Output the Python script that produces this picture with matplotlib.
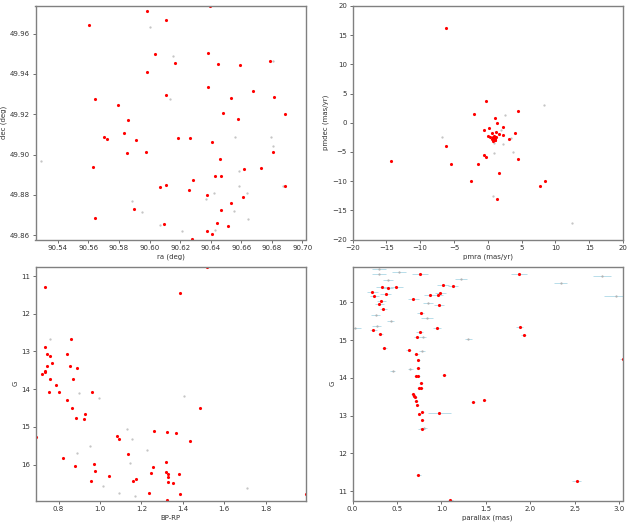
import numpy as np
import matplotlib
matplotlib.use('Agg')
from matplotlib import pyplot as plt

# members (red) and field stars (gray)
ra_m = [90.5607, 90.5985, 90.6110, 90.6393, 90.6037, 90.6385, 90.6164, 90.6448, 90.6592, 90.6791,
        90.5985, 90.6383, 90.6677, 90.6531, 90.6813, 90.5645, 90.6105, 90.5791, 90.5861, 90.6480,
        90.6581, 90.6887, 90.5250, 90.5701, 90.5725, 90.5832, 90.5913, 90.6184, 90.6265, 90.6411,
        90.5850, 90.5979, 90.6806, 90.5627, 90.6459, 90.6730, 90.6616, 90.6430, 90.6465, 90.6286,
        90.6105, 90.6066, 90.6259, 90.6889, 90.6375, 90.6610, 90.6531, 90.5900, 90.6467, 90.5645,
        90.6094, 90.6441, 90.6511, 90.6375, 90.6411, 90.6279]
dec_m = [49.9643, 49.9713, 49.9670, 49.9736, 49.9497, 49.9504, 49.9453, 49.9449, 49.9444, 49.9466,
         49.9410, 49.9333, 49.9317, 49.9282, 49.9284, 49.9274, 49.9295, 49.9246, 49.9171, 49.9206,
         49.9178, 49.9201, 49.9181, 49.9088, 49.9075, 49.9108, 49.9072, 49.9083, 49.9083, 49.9062,
         49.9007, 49.9014, 49.9011, 49.8939, 49.8976, 49.8936, 49.8928, 49.8893, 49.8895, 49.8872,
         49.8847, 49.8840, 49.8824, 49.8843, 49.8800, 49.8792, 49.8761, 49.8732, 49.8727, 49.8688,
         49.8658, 49.8661, 49.8645, 49.8622, 49.8608, 49.8580]
ra_f = [90.6000, 90.6155, 90.6134, 90.6808, 90.6557, 90.6793, 90.6806, 90.6586, 90.6583, 90.6638,
        90.6420, 90.6367, 90.5883, 90.5952, 90.5289, 90.6068, 90.6212, 90.6555, 90.6644, 90.6430,
        90.6871]
dec_f = [49.9633, 49.9489, 49.9274, 49.9463, 49.9085, 49.9088, 49.9044, 49.8921, 49.8843, 49.8810,
         49.8810, 49.8780, 49.8771, 49.8714, 49.8969, 49.8651, 49.8621, 49.8718, 49.8683, 49.8628,
         49.8843]

pmra_m = [-6.2, -0.2, -2.0, 4.5, 1.0, 1.3, -0.5, 0.2, 2.3, 4.0, 1.2, 0.6, 1.6, 2.3, 0.1, 0.3, 3.1,
          0.8, 1.0, 0.9, 1.1, 0.7, 1.2, 0.9, 1.0, 0.8, 1.1, 0.9, -6.1, -0.6, -0.3, 4.5, -14.3,
          -5.4, -1.5, 1.7, -2.5, 8.5, 7.8, 1.3]
pmdec_m = [16.2, 3.8, 1.5, 2.0, 0.8, -0.1, -1.2, -0.9, -0.7, -1.7, -1.5, -1.8, -1.9, -2.1, -2.3,
           -2.5, -2.8, -2.5, -2.6, -2.8, -2.9, -2.7, -2.4, -2.3, -3.0, -3.1, -2.6, -2.5, -4.0, -5.5,
           -5.8, -6.2, -6.6, -7.1, -7.0, -8.6, -9.9, -10.0, -10.9, -13.0]
pmra_f = [-6.7, 2.5, 8.3, 3.5, 2.2, 3.7, 0.9, 0.8, 12.5, 2.0, 0.9]
pmdec_f = [-2.5, 1.3, 3.0, -2.6, -3.6, -5.0, -5.1, -12.6, -17.1, -1.2, -3.4]

bprp_m = [0.734, 1.384, 0.861, 0.736, 0.745, 0.840, 0.760, 0.770, 0.855, 0.745, 0.887, 0.737,
          0.734, 0.721, 0.761, 0.869, 0.790, 0.753, 0.803, 0.961, 0.843, 0.864, 1.484, 0.928,
          0.882, 0.925, 1.262, 1.323, 1.367, 1.081, 1.093, 1.436, 1.134, 0.824, 0.880, 0.972,
          1.317, 1.254, 0.978, 1.317, 1.246, 1.328, 1.380, 1.330, 1.044, 1.176, 0.956, 1.158,
          1.326, 1.354, 1.238, 1.387, 1.323, 1.517, 1.994, 0.690]
g_cmd_m = [11.28, 11.44, 12.67, 12.88, 13.07, 13.07, 13.11, 13.30, 13.39, 13.39, 13.45, 13.53,
           13.55, 13.60, 13.74, 13.74, 13.89, 14.07, 14.07, 14.07, 14.29, 14.50, 14.50, 14.66,
           14.75, 14.80, 15.10, 15.14, 15.15, 15.24, 15.32, 15.36, 15.73, 15.82, 16.04, 15.97,
           15.94, 16.07, 16.17, 16.19, 16.21, 16.25, 16.25, 16.32, 16.29, 16.38, 16.42, 16.44,
           16.45, 16.48, 16.74, 16.77, 16.94, 10.76, 16.78, 15.26]
bprp_f = [0.761, 0.901, 0.996, 1.405, 1.131, 0.953, 1.155, 1.229, 1.147, 0.887, 1.017, 1.094,
          1.169, 1.710]
g_cmd_f = [12.68, 14.10, 14.24, 14.18, 15.05, 15.51, 15.31, 15.60, 15.96, 15.68, 16.57, 16.74,
           16.84, 16.63]

plx_m = [0.756, 1.871, 1.017, 1.130, 0.337, 0.400, 0.494, 0.224, 0.374, 0.243, 0.868, 0.961,
         0.988, 0.685, 0.325, 0.299, 0.973, 0.344, 0.767, 1.878, 0.950, 0.232, 0.756, 0.314,
         1.923, 0.722, 0.359, 0.632, 0.718, 0.741, 0.737, 1.029, 0.733, 0.715, 0.767, 0.767,
         0.748, 0.681, 0.692, 0.703, 0.711, 0.730, 1.481, 1.354, 0.786, 0.973, 0.752, 0.786,
         0.778, 0.741, 2.521, 3.04, 1.10]
plx_err_m = [0.09, 0.085, 0.065, 0.06, 0.07, 0.06, 0.07, 0.06, 0.06, 0.05, 0.06, 0.06,
             0.06, 0.06, 0.05, 0.05, 0.06, 0.04, 0.04, 0.04, 0.05, 0.04, 0.04, 0.03,
             0.03, 0.03, 0.03, 0.03, 0.03, 0.02, 0.02, 0.02, 0.02, 0.02, 0.02, 0.02,
             0.02, 0.02, 0.02, 0.02, 0.02, 0.02, 0.02, 0.02, 0.02, 0.13, 0.02, 0.02,
             0.04, 0.03, 0.05, 0.03, 0.03]
g_plx_m = [16.75, 16.76, 16.46, 16.43, 16.42, 16.39, 16.42, 16.28, 16.23, 16.16, 16.21, 16.21,
           16.24, 16.08, 16.04, 15.96, 15.93, 15.82, 15.72, 15.36, 15.32, 15.26, 15.23, 15.16,
           15.14, 15.09, 14.79, 14.75, 14.64, 14.48, 14.27, 14.07, 14.05, 14.04, 13.87, 13.73,
           13.72, 13.57, 13.52, 13.50, 13.38, 13.28, 13.42, 13.36, 13.10, 13.07, 13.04, 12.88,
           12.65, 11.42, 11.27, 14.50, 10.75]
plx_f = [0.30, 0.52, 0.30, 1.22, 0.40, 2.34, 2.80, 2.96, 0.85, 0.84, 0.27, 0.43, 0.26, 0.03,
         0.79, 1.30, 0.78, 0.65, 0.45, 0.80]
plx_err_f = [0.08, 0.08, 0.08, 0.07, 0.06, 0.07, 0.10, 0.13, 0.06, 0.07, 0.05, 0.04, 0.05, 0.06,
             0.04, 0.04, 0.03, 0.03, 0.03, 0.04]
g_plx_f = [16.88, 16.82, 16.75, 16.62, 16.59, 16.52, 16.71, 16.17, 15.99, 15.59, 15.38, 15.50,
           15.68, 15.31, 15.09, 15.04, 14.72, 14.23, 14.17, 12.68]

plt.rcParams.update({
    'font.size': 5,
    'axes.linewidth': 1.0,
    'axes.edgecolor': '#808080',
    'xtick.major.size': 2,
    'ytick.major.size': 2,
    'xtick.major.width': 0.5,
    'ytick.major.width': 0.5,
    'xtick.major.pad': 2,
    'ytick.major.pad': 2,
    'axes.labelpad': 2,
    'xtick.color': '#333333',
    'ytick.color': '#333333',
    'axes.labelcolor': '#333333',
})

fig = plt.figure(figsize=(6.28, 5.26), dpi=100)
W, H = 628, 526


def add_ax(x0, y0, x1, y1):
    return fig.add_axes([x0 / W, 1 - y1 / H, (x1 - x0) / W, (y1 - y0) / H])


ax1 = add_ax(35.5, 6, 306, 239.5)
ax2 = add_ax(352.5, 6, 623, 239.5)
ax3 = add_ax(35.5, 267, 306, 500.5)
ax4 = add_ax(352.5, 267, 623, 500.5)

field_kw = dict(ls='none', marker='.', ms=1.2, color='#c0c0c0')
mem_kw = dict(ls='none', marker='.', ms=2.5, color='red')

# sky positions
ax1.plot(ra_f, dec_f, **field_kw)
ax1.plot(ra_m, dec_m, **mem_kw)
ax1.set_xlim(90.5254, 90.7024)
ax1.set_ylim(49.8579, 49.9737)
ax1.set_xticks(np.arange(90.54, 90.701, 0.02))
ax1.set_yticks(np.arange(49.86, 49.961, 0.02))
ax1.set_xlabel('ra (deg)')
ax1.set_ylabel('dec (deg)')

# proper motions
ax2.plot(pmra_f, pmdec_f, **field_kw)
ax2.plot(pmra_m, pmdec_m, **mem_kw)
ax2.set_xlim(-20, 20)
ax2.set_ylim(-20, 20)
ax2.set_xticks(np.arange(-20, 21, 5))
ax2.set_yticks(np.arange(-20, 21, 5))
ax2.set_xlabel('pmra (mas/yr)')
ax2.set_ylabel('pmdec (mas/yr)')

# CMD
ax3.plot(bprp_f, g_cmd_f, **field_kw)
ax3.plot(bprp_m, g_cmd_m, **mem_kw)
ax3.set_xlim(0.689, 1.994)
ax3.set_ylim(16.95, 10.76)
ax3.set_xticks([0.8, 1.0, 1.2, 1.4, 1.6, 1.8])
ax3.set_yticks([11, 12, 13, 14, 15, 16])
ax3.set_xlabel('BP-RP')
ax3.set_ylabel('G')

# parallax vs G
ax4.errorbar(plx_f, g_plx_f, xerr=plx_err_f, fmt='.', ms=1.2, color='#b0b0b0',
             ecolor='lightblue', elinewidth=0.6)
ax4.errorbar(plx_m, g_plx_m, xerr=plx_err_m, fmt='.', ms=2.5, color='red',
             ecolor='lightblue', elinewidth=0.6)
ax4.set_xlim(0.0, 3.04)
ax4.set_ylim(10.75, 16.94)
ax4.set_xticks([0.0, 0.5, 1.0, 1.5, 2.0, 2.5, 3.0])
ax4.set_yticks([11, 12, 13, 14, 15, 16])
ax4.set_xlabel('parallax (mas)')
ax4.set_ylabel('G')

fig.savefig('out.png', dpi=100)
